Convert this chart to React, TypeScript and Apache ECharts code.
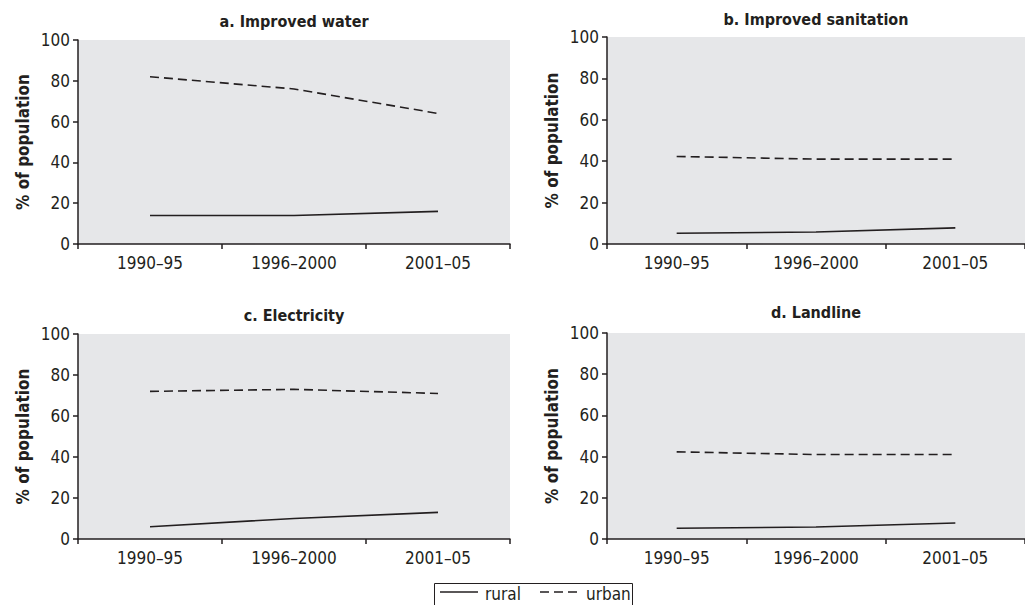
import React, { useEffect, useRef } from "react";
import * as echarts from "echarts";

const categories = ["1990–95", "1996–2000", "2001–05"];
const panelTitles = ["a. Improved water", "b. Improved sanitation", "c. Electricity", "d. Landline"];
const legendNames = ["rural", "urban"];
const ruralWater = [14, 14, 16];
const urbanWater = [82, 76, 64];
const ruralSanitation = [5.2, 5.8, 7.8];
const urbanSanitation = [42.3, 41, 41];
const ruralElectricity = [6, 10, 13];
const urbanElectricity = [72, 73, 71];
const ruralLandline = [5.2, 5.8, 7.8];
const urbanLandline = [42.3, 41, 41];
const yTicks = [0, 20, 40, 60, 80, 100];

const FONT = "'DejaVu Sans Condensed', 'Liberation Sans', Arial, sans-serif";
const INK = "#231f20";
const DASH = [9, 5];

export default function App() {
  const ref = useRef<HTMLDivElement>(null);
  useEffect(() => {
    document.body.style.margin = "0";
    const chart = echarts.init(ref.current!, null, { renderer: "svg" });
    const grids = [
      { left: 78, top: 40, width: 432, height: 204 },
      { left: 607, top: 37, width: 426, height: 207 },
      { left: 78, top: 334, width: 432, height: 205 },
      { left: 607, top: 333, width: 426, height: 206 },
    ];
    const titlePos = [
      { x: 294, y: 13 },
      { x: 816, y: 11 },
      { x: 294, y: 307 },
      { x: 816, y: 304 },
    ];
    const rural = [ruralWater, ruralSanitation, ruralElectricity, ruralLandline];
    const urban = [urbanWater, urbanSanitation, urbanElectricity, urbanLandline];
    const option: any = {
      animation: false,
      backgroundColor: "#ffffff",
      textStyle: { fontFamily: FONT },
      title: panelTitles.map((t, i) => ({
        text: t,
        left: titlePos[i].x,
        top: titlePos[i].y,
        textAlign: "center",
        padding: 0,
        textStyle: { fontFamily: FONT, fontWeight: "bold", fontSize: 16, color: INK },
      })),
      grid: grids.map((g) => ({ ...g, containLabel: false, backgroundColor: "#e6e7e9", show: true, borderWidth: 0 })),
      xAxis: grids.map((_, i) => ({
        type: "category",
        gridIndex: i,
        data: categories,
        boundaryGap: true,
        axisLine: { lineStyle: { color: INK, width: 1.5 } },
        axisTick: { show: true, length: 5, lineStyle: { color: INK, width: 1.5 } },
        axisLabel: { fontFamily: FONT, fontSize: 17, color: INK, margin: 10 },
      })),
      yAxis: grids.map((_, i) => ({
        type: "value",
        gridIndex: i,
        min: yTicks[0],
        max: yTicks[yTicks.length - 1],
        interval: 20,
        name: "% of population",
        nameLocation: "middle",
        nameRotate: 90,
        nameGap: 47,
        nameTextStyle: { fontFamily: FONT, fontWeight: "bold", fontSize: 17, color: INK },
        axisLine: { show: true, lineStyle: { color: INK, width: 1.5 } },
        axisTick: { show: true, length: 5, lineStyle: { color: INK, width: 1.5 } },
        splitLine: { show: false },
        axisLabel: { fontFamily: FONT, fontSize: 17, color: INK, margin: 8 },
      })),
      graphic: [
        {
          type: "rect",
          shape: { x: 434.5, y: 583.5, width: 198, height: 26 },
          style: { fill: "#ffffff", stroke: INK, lineWidth: 1 },
        },
        {
          type: "line",
          shape: { x1: 440, y1: 592, x2: 478, y2: 592 },
          style: { stroke: INK, lineWidth: 1.6 },
        },
        {
          type: "text",
          x: 485,
          y: 594,
          style: { text: legendNames[0], font: `17px ${FONT}`, fill: INK, textVerticalAlign: "middle" },
        },
        {
          type: "line",
          shape: { x1: 540, y1: 592, x2: 578, y2: 592 },
          style: { stroke: INK, lineWidth: 1.6, lineDash: DASH },
        },
        {
          type: "text",
          x: 586,
          y: 594,
          style: { text: legendNames[1], font: `17px ${FONT}`, fill: INK, textVerticalAlign: "middle" },
        },
      ],
      series: [
        ...rural.map((d, i) => ({
          name: legendNames[0],
          type: "line",
          xAxisIndex: i,
          yAxisIndex: i,
          data: d,
          symbol: "none",
          smooth: false,
          lineStyle: { color: INK, width: 1.6, type: "solid" },
          itemStyle: { color: INK },
        })),
        ...urban.map((d, i) => ({
          name: legendNames[1],
          type: "line",
          xAxisIndex: i,
          yAxisIndex: i,
          data: d,
          symbol: "none",
          smooth: false,
          lineStyle: { color: INK, width: 1.6, type: DASH },
          itemStyle: { color: INK },
        })),
      ],
    };
    chart.setOption(option);
    return () => chart.dispose();
  }, []);
  return <div ref={ref} style={{ position: "absolute", left: 0, top: 0, width: 1025, height: 605 }} />;
}
